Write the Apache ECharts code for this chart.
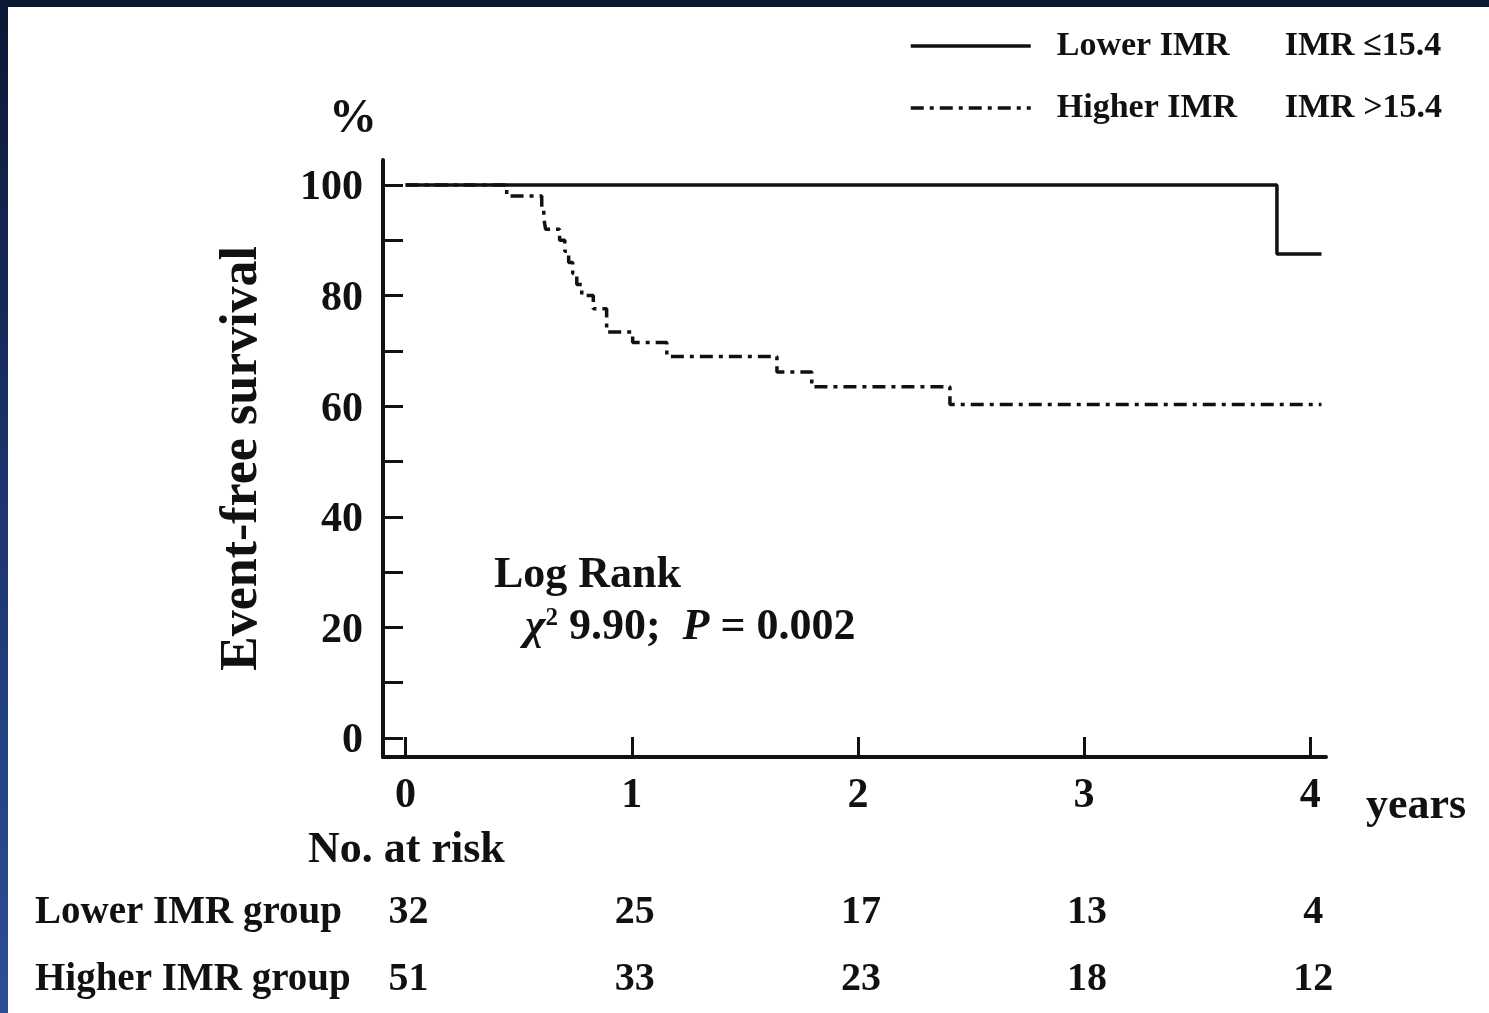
<!DOCTYPE html>
<html>
<head>
<meta charset="utf-8">
<script src="https://cdn.jsdelivr.net/npm/echarts@6/dist/echarts.min.js"></script>
<style>
  html, body { margin: 0; padding: 0; background: #fff; }
  #wrap { position: relative; width: 1489px; height: 1013px; overflow: hidden; background: #fff; }
  #chart { position: absolute; left: 0; top: 0; width: 1489px; height: 1013px; }
  #topBar { position: absolute; left: 0; top: 0; width: 1489px; height: 7px; background: #0b1733; z-index: 5; }
  #leftBar { position: absolute; left: 0; top: 0; width: 8px; height: 1013px; z-index: 5;
             background: linear-gradient(#0b1733, #1d3570 50%, #2c4f98); }
</style>
</head>
<body>
<div id="wrap">
  <div id="chart"></div>
  <div id="topBar"></div>
  <div id="leftBar"></div>
</div>
<script>
// ---------- data ----------
const seriesNames = ['Lower IMR', 'Higher IMR'];
const cutoffLabels = ['IMR \u226415.4', 'IMR >15.4'];

const lowerTimes = [0, 3.853, 4.05];
const lowerSurv  = [100, 87.5, 87.5];

const higherTimes = [0, 0.447, 0.602, 0.611, 0.619, 0.681, 0.704, 0.721, 0.739, 0.757, 0.779, 0.83, 0.889, 1.004, 1.155, 1.642, 1.796, 2.407, 4.05];
const higherSurv  = [100, 98, 96, 94, 92, 90, 88, 86, 84, 82, 80, 77.6, 73.4, 71.5, 69, 66.2, 63.5, 60.3, 60.3];

const xTickValues = [0, 1, 2, 3, 4];
const yTickValues = [0, 10, 20, 30, 40, 50, 60, 70, 80, 90, 100];
const yLabelValues = [0, 20, 40, 60, 80, 100];

const riskGroups = ['Lower IMR group', 'Higher IMR group'];
const riskTimes = [0, 1, 2, 3, 4];
const lowerRisk = [32, 25, 17, 13, 4];
const higherRisk = [51, 33, 23, 18, 12];

const statTitle = 'Log Rank';
const chiSq = '9.90';
const pValue = '0.002';

// ---------- chart ----------
const FONT = '"Liberation Serif", "DejaVu Serif", serif';
const INK = '#111';
const chart = echarts.init(document.getElementById('chart'), null, { renderer: 'canvas' });

const zip = (a, b) => a.map((v, i) => [v, b[i]]);
const riskData = [];
riskTimes.forEach((t, i) => {
  riskData.push([t, riskGroups[0], lowerRisk[i]]);
  riskData.push([t, riskGroups[1], higherRisk[i]]);
});

const option = {
  backgroundColor: '#fff',
  animation: false,
  textStyle: { fontFamily: FONT, color: INK, fontWeight: 'bold' },
  legend: {
    orient: 'vertical',
    left: 909,
    top: 29,
    padding: 0,
    itemWidth: 120,
    itemHeight: 14,
    itemGap: 28,
    data: seriesNames,
    itemStyle: { opacity: 0 },
    lineStyle: { width: 3.5 },
    textStyle: {
      fontFamily: FONT, fontWeight: 'bold', fontSize: 34, color: INK,
      rich: {
        a: { fontFamily: FONT, fontWeight: 'bold', fontSize: 34, color: INK, width: 228, padding: [0, 0, 0, 21] },
        b: { fontFamily: FONT, fontWeight: 'bold', fontSize: 34, color: INK }
      }
    },
    formatter: function (name) {
      const i = seriesNames.indexOf(name);
      return '{a|' + name + '}{b|' + cutoffLabels[i] + '}';
    }
  },
  grid: [
    { left: 383, top: 160, width: 943, height: 597, containLabel: false },
    { left: 383, top: 879, width: 943, height: 140, containLabel: false }
  ],
  xAxis: [
    {
      type: 'value', gridIndex: 0, min: -0.1, max: 4.07,
      splitLine: { show: false },
      axisLine: { show: true, onZero: false, lineStyle: { color: INK, width: 4 } },
      axisTick: { show: true, inside: true, length: 20, customValues: xTickValues, lineStyle: { color: INK, width: 3 } },
      axisLabel: { show: true, customValues: xTickValues, margin: 18, fontFamily: FONT, fontWeight: 'bold', fontSize: 42, color: INK }
    },
    {
      type: 'value', gridIndex: 1, min: -0.1, max: 4.07,
      show: false
    }
  ],
  yAxis: [
    {
      type: 'value', gridIndex: 0, min: -3.44, max: 104.52,
      name: 'Event-free survival',
      nameLocation: 'middle',
      nameGap: 114,
      nameRotate: 90,
      nameTextStyle: { fontFamily: FONT, fontWeight: 'bold', fontSize: 52, color: INK },
      splitLine: { show: false },
      axisLine: { show: true, onZero: false, lineStyle: { color: INK, width: 4 } },
      axisTick: { show: true, inside: true, length: 20, customValues: yTickValues, lineStyle: { color: INK, width: 3 } },
      axisLabel: {
        show: true, customValues: yLabelValues, margin: 20,
        fontFamily: FONT, fontWeight: 'bold', fontSize: 42, color: INK,
        formatter: function (v) { return '{v|' + v + '}'; },
        rich: { v: { fontFamily: FONT, fontWeight: 'bold', fontSize: 42, color: INK, padding: [7, 0, 0, 0] } }
      }
    },
    {
      type: 'category', gridIndex: 1, data: riskGroups,
      inverse: true,
      axisLine: { show: false }, axisTick: { show: false }, splitLine: { show: false },
      axisLabel: { show: true, align: 'left', margin: 348, fontFamily: FONT, fontWeight: 'bold', fontSize: 39, color: INK }
    }
  ],
  series: [
    {
      name: seriesNames[0], type: 'line', step: 'end', xAxisIndex: 0, yAxisIndex: 0,
      data: zip(lowerTimes, lowerSurv),
      symbol: 'none', color: INK,
      lineStyle: { color: INK, width: 3.5, type: 'solid' }
    },
    {
      name: seriesNames[1], type: 'line', step: 'end', xAxisIndex: 0, yAxisIndex: 0,
      data: zip(higherTimes, higherSurv),
      symbol: 'none', color: INK,
      lineStyle: { color: INK, width: 3.5, type: [13, 6, 4, 6] }
    },
    {
      name: 'risk', type: 'scatter', xAxisIndex: 1, yAxisIndex: 1,
      data: riskData,
      symbolSize: 0,
      itemStyle: { color: INK, opacity: 1 },
      label: {
        show: true, position: 'inside', offset: [3, 0],
        fontFamily: FONT, fontWeight: 'bold', fontSize: 40, color: INK, opacity: 1,
        textBorderWidth: 0,
        formatter: function (p) { return String(p.value[2]); }
      },
      emphasis: { disabled: true },
      silent: true
    }
  ],
  graphic: [
    { type: 'text', left: 329, top: 96, style: { text: '%', font: 'bold 48px ' + FONT, fill: INK } },
    { type: 'text', left: 1366, top: 785, style: { text: 'years', font: 'bold 44px ' + FONT, fill: INK } },
    { type: 'text', left: 308, top: 829, style: { text: 'No. at risk', font: 'bold 44px ' + FONT, fill: INK } },
    { type: 'text', left: 494, top: 554, style: { text: statTitle, font: 'bold 44px ' + FONT, fill: INK } },
    {
      type: 'text', left: 525, top: 606,
      style: {
        text: '{c|\u03c7}{s|2}{n| ' + chiSq + ';  }{i|P}{n| = ' + pValue + '}',
        fill: INK,
        rich: {
          c: { fontFamily: FONT, fontWeight: 'bold', fontStyle: 'italic', fontSize: 44, color: INK },
          s: { fontFamily: FONT, fontWeight: 'bold', fontSize: 25, verticalAlign: 'top', color: INK, padding: [0, 0, 18, 0] },
          n: { fontFamily: FONT, fontWeight: 'bold', fontSize: 44, color: INK },
          i: { fontFamily: FONT, fontWeight: 'bold', fontStyle: 'italic', fontSize: 44, color: INK }
        }
      }
    }
  ]
};
chart.setOption(option);
</script>
</body>
</html>
